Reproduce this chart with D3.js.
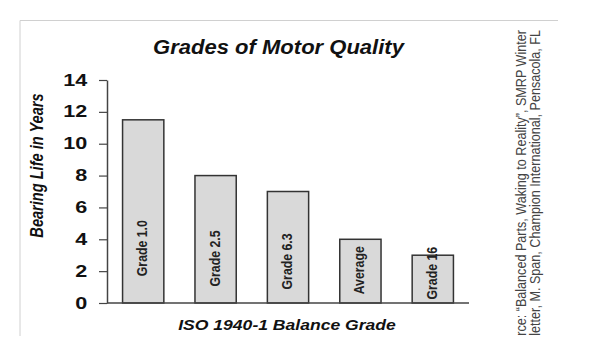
<!DOCTYPE html>
<html>
<head>
<meta charset="utf-8">
<script src="https://cdn.jsdelivr.net/npm/d3@7"></script>
<style>
	body { margin: 0; background: #fff; }
	svg text { font-family: "Liberation Sans", Arial, sans-serif; }
</style>
</head>
<body>
<div id="chart"></div>
<script>
var categories = ["Grade 1.0", "Grade 2.5", "Grade 6.3", "Average", "Grade 16"];
var lifeYears = [11.5, 8, 7, 4, 3];
var yTicks = [0, 2, 4, 6, 8, 10, 12, 14];
var sourceLines = [
	"Source: \u201cBalanced Parts, Waking to Reality\u201d, SMRP Winter",
	"Newsletter, M. Span, Champion International, Pensacola, FL"
];

function init() {
	var w = 591;
	var h = 355;

	var svg = d3.select("#chart")
		.append("svg")
		.attr("width", w)
		.attr("height", h);

	svg.append("defs").append("clipPath")
		.attr("id", "clip")
		.append("rect")
		.attr("x", 0).attr("y", 0)
		.attr("width", w).attr("height", 336);

	var g = svg.append("g").attr("clip-path", "url(#clip)");

	// light frame, only top and left edges show
	g.append("path")
		.attr("d", "M20,340V20.5H558")
		.attr("fill", "none")
		.attr("stroke", "#d0d0d0")
		.attr("stroke-width", 1);

	var dataset = categories.map(function(c, i) {
		return { grade: c, value: lifeYears[i] };
	});

	var x = d3.scaleBand()
		.domain(categories)
		.range([107, 469])
		.paddingInner(0.43)
		.paddingOuter(0.215);

	var y = d3.scaleLinear()
		.domain([0, 14])
		.range([303, 80]);

	// bars
	g.append("g")
		.selectAll("rect")
		.data(dataset)
		.join("rect")
			.attr("x", d => x(d.grade))
			.attr("y", d => y(d.value))
			.attr("width", x.bandwidth())
			.attr("height", d => y(0) - y(d.value))
			.attr("fill", "#d9d9d9")
			.attr("stroke", "#333")
			.attr("stroke-width", 1.5);

	// labels inside bars
	g.append("g")
		.selectAll("text")
		.data(dataset)
		.join("text")
			.attr("transform", d => "translate(" + (x(d.grade) + x.bandwidth() / 2 - 1) + "," + (226 + 0.185 * y(d.value)) + ") scale(1.15,1) rotate(-90)")
			.attr("text-anchor", "middle")
			.attr("dy", "0.35em")
			.attr("font-size", 12.3)
			.attr("font-weight", "bold")
			.attr("fill", "#222")
			.text(d => d.grade);

	// baseline
	g.append("line")
		.attr("x1", x.range()[0]).attr("x2", x.range()[1])
		.attr("y1", y(0)).attr("y2", y(0))
		.attr("stroke", "#444")
		.attr("stroke-width", 1.5);

	// y axis
	g.append("g")
		.attr("transform", "translate(107,0)")
		.call(d3.axisLeft(y).tickValues(yTicks).tickSize(8).tickSizeOuter(0))
		.call(a => a.select(".domain").attr("stroke", "#444").attr("stroke-width", 1.5))
		.call(a => a.selectAll(".tick line").attr("stroke", "#444").attr("stroke-width", 1.2))
		.call(a => a.selectAll(".tick text")
			.attr("x", -14.6)
			.attr("transform", "scale(1.35,1)")
			.attr("font-size", 16)
			.attr("font-weight", "bold")
			.attr("font-family", "'Liberation Sans', Arial, sans-serif")
			.attr("fill", "#111"));

	// title
	g.append("text")
		.attr("transform", "translate(278.5,54) scale(1.13,1)")
		.attr("text-anchor", "middle")
		.attr("font-size", 19.5)
		.attr("font-weight", "bold")
		.attr("font-style", "italic")
		.attr("fill", "#111")
		.text("Grades of Motor Quality");

	// x title
	g.append("text")
		.attr("transform", "translate(287,330) scale(1.22,1)")
		.attr("text-anchor", "middle")
		.attr("font-size", 14.4)
		.attr("font-weight", "bold")
		.attr("font-style", "italic")
		.attr("fill", "#111")
		.text("ISO 1940-1 Balance Grade");

	// y title
	g.append("text")
		.attr("transform", "translate(37,165.5) scale(1.2,1) rotate(-90)")
		.attr("text-anchor", "middle")
		.attr("dy", "0.35em")
		.attr("font-size", 14.6)
		.attr("font-weight", "bold")
		.attr("font-style", "italic")
		.attr("fill", "#111")
		.text("Bearing Life in Years");

	// source note, cut off at the bottom like the original
	g.append("g")
		.selectAll("text")
		.data(sourceLines)
		.join("text")
			.attr("transform", (d, i) => "translate(" + (526 + i * 14) + ",30) scale(1.2,1) rotate(-90)")
			.attr("text-anchor", "end")
			.attr("font-size", 12.6)
			.attr("fill", "#444")
			.text(d => d);
}

window.onload = init;
</script>
</body>
</html>
